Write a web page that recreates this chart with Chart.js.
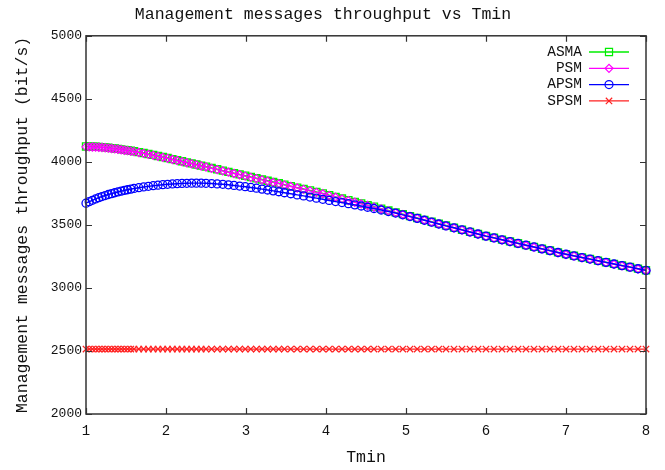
<!DOCTYPE html>
<html>
<head>
<meta charset="utf-8">
<script src="https://cdn.jsdelivr.net/npm/chart.js@4"></script>
<style>
  html, body { margin: 0; padding: 0; background: #fff; }
  canvas { display: block; }
</style>
</head>
<body>
<canvas id="chartTmin" width="665" height="470"></canvas>
<script>
// dati
const tmin = [
  1.00, 1.04, 1.08, 1.12, 1.16, 1.20, 1.24, 1.28, 1.32, 1.36, 1.40, 1.44, 1.48, 1.52, 1.56, 1.60,
  1.66, 1.72, 1.78, 1.84, 1.90, 1.96, 2.02, 2.08, 2.14, 2.20, 2.26, 2.32, 2.38, 2.44, 2.50,
  2.57, 2.64, 2.71, 2.78, 2.85, 2.92, 2.99, 3.06, 3.13, 3.20, 3.27, 3.34, 3.41, 3.48,
  3.56, 3.64, 3.72, 3.80, 3.88, 3.96, 4.04, 4.12, 4.20, 4.28, 4.36, 4.44, 4.52, 4.60,
  4.69, 4.78, 4.87, 4.96, 5.05, 5.14, 5.23, 5.32, 5.41, 5.50,
  5.6, 5.7, 5.8, 5.9, 6.0, 6.1, 6.2, 6.3, 6.4, 6.5, 6.6, 6.7, 6.8, 6.9, 7.0, 7.1, 7.2, 7.3, 7.4, 7.5, 7.6, 7.7, 7.8, 7.9, 8.0
];
const asma = [
  4122, 4122, 4121, 4120, 4119, 4117, 4115, 4112, 4109, 4106, 4103, 4099, 4095, 4092, 4088, 4084,
  4077, 4070, 4062, 4055, 4047, 4039, 4031, 4022, 4014, 4005, 3996, 3988, 3979, 3970, 3962,
  3951, 3941, 3931, 3921, 3911, 3901, 3890, 3880, 3870, 3860, 3850, 3840, 3830, 3819,
  3808, 3796, 3785, 3773, 3761, 3750, 3735, 3722, 3709, 3696, 3683, 3670, 3657, 3644,
  3629, 3614, 3599, 3585, 3570, 3555, 3540, 3525, 3510, 3495,
  3478, 3462, 3445, 3429, 3412, 3398, 3383, 3369, 3354, 3340, 3326, 3311, 3297, 3282, 3268, 3255, 3242, 3230, 3217, 3204, 3191, 3178, 3166, 3153, 3140
];
const psm = [
  4119, 4119, 4118, 4117, 4116, 4114, 4112, 4109, 4106, 4103, 4100, 4096, 4092, 4089, 4085, 4081,
  4074, 4067, 4059, 4052, 4044, 4036, 4028, 4019, 4011, 4002, 3993, 3985, 3976, 3967, 3959,
  3948, 3938, 3928, 3918, 3908, 3898, 3887, 3877, 3867, 3857, 3847, 3837, 3827, 3816,
  3805, 3793, 3782, 3770, 3758, 3747, 3732, 3719, 3706, 3693, 3680, 3667, 3654, 3641,
  3626, 3611, 3596, 3582, 3567, 3552, 3537, 3522, 3507, 3492,
  3475, 3459, 3442, 3426, 3409, 3395, 3380, 3366, 3351, 3337, 3323, 3308, 3294, 3279, 3265, 3252, 3239, 3227, 3214, 3201, 3188, 3175, 3163, 3150, 3137
];
const apsm = [
  3672, 3684, 3695, 3706, 3716, 3725, 3733, 3741, 3748, 3755, 3762, 3768, 3774, 3779, 3784, 3789,
  3795, 3801, 3806, 3811, 3815, 3819, 3822, 3825, 3827, 3829, 3830, 3831, 3831, 3831, 3830,
  3828, 3825, 3822, 3818, 3813, 3808, 3803, 3797, 3791, 3784, 3777, 3770, 3763, 3755,
  3747, 3738, 3730, 3721, 3712, 3703, 3694, 3685, 3677, 3668, 3659, 3650, 3640, 3630,
  3618, 3606, 3594, 3580, 3566, 3552, 3537, 3522, 3507, 3492,
  3477, 3461, 3444, 3428, 3411, 3397, 3382, 3368, 3353, 3339, 3325, 3310, 3296, 3281, 3267, 3254, 3241, 3229, 3216, 3203, 3190, 3177, 3165, 3152, 3139
];
const spsm = [
  2515, 2515, 2515, 2515, 2515, 2515, 2515, 2515, 2515, 2515, 2515, 2515, 2515, 2515, 2515, 2515,
  2515, 2515, 2515, 2515, 2515, 2515, 2515, 2515, 2515, 2515, 2515, 2515, 2515, 2515, 2515,
  2515, 2515, 2515, 2515, 2515, 2515, 2515, 2515, 2515, 2515, 2515, 2515, 2515, 2515,
  2515, 2515, 2515, 2515, 2515, 2515, 2515, 2515, 2515, 2515, 2515, 2515, 2515, 2515,
  2515, 2515, 2515, 2515, 2515, 2515, 2515, 2515, 2515, 2515,
  2515, 2515, 2515, 2515, 2515, 2515, 2515, 2515, 2515, 2515, 2515, 2515, 2515, 2515, 2515, 2515, 2515, 2515, 2515, 2515, 2515, 2515, 2515, 2515, 2515
];
const seriesNames = ['ASMA', 'PSM', 'APSM', 'SPSM'];
const xTicks = [1, 2, 3, 4, 5, 6, 7, 8];
const yTicks = [2000, 2500, 3000, 3500, 4000, 4500, 5000];

const MONO = 'Liberation Mono';

// coppie x,y per la scala lineare
function punti(valori) {
  return tmin.map((t, i) => ({ x: t, y: valori[i] }));
}

function serie(label, valori, colore, stile, raggio, ordine) {
  return {
    label: label,
    data: punti(valori),
    borderColor: colore,
    borderWidth: 1.4,
    pointStyle: stile,
    pointRadius: raggio,
    pointBorderWidth: 1.3,
    pointBorderColor: colore,
    pointBackgroundColor: 'rgba(0,0,0,0)',
    tension: 0,
    clip: false,
    order: ordine
  };
}

// riquadro, tacche interne e legenda stile gnuplot
const gnuplotFrame = {
  id: 'gnuplotFrame',
  afterDraw(chart) {
    const c = chart.ctx;
    const a = chart.chartArea;
    const sx = chart.scales.x, sy = chart.scales.y;
    c.save();
    c.strokeStyle = '#333';
    c.lineWidth = 1.5;
    c.strokeRect(a.left, a.top, a.right - a.left, a.bottom - a.top);
    c.lineWidth = 1.2;
    c.beginPath();
    xTicks.forEach(v => {
      const px = Math.round(sx.getPixelForValue(v)) + 0.5;
      c.moveTo(px, a.bottom); c.lineTo(px, a.bottom - 6);
      c.moveTo(px, a.top); c.lineTo(px, a.top + 6);
    });
    yTicks.forEach(v => {
      const py = Math.round(sy.getPixelForValue(v)) + 0.5;
      c.moveTo(a.left, py); c.lineTo(a.left + 6, py);
      c.moveTo(a.right, py); c.lineTo(a.right - 6, py);
    });
    c.stroke();

    // legenda
    c.font = '14.5px "' + MONO + '"';
    c.textAlign = 'right';
    c.textBaseline = 'middle';
    chart.data.datasets.forEach((ds, i) => {
      const y = 52 + i * 16.3;
      c.fillStyle = '#111';
      c.fillText(ds.label, 582, y);
      c.strokeStyle = ds.borderColor;
      c.lineWidth = 1.3;
      c.beginPath();
      c.moveTo(589, y); c.lineTo(629, y);
      c.stroke();
      c.lineWidth = 1.2;
      c.fillStyle = 'rgba(0,0,0,0)';
      Chart.helpers.drawPoint(c, { pointStyle: ds.pointStyle, radius: ds.pointRadius, rotation: 0, borderWidth: 1.2 }, 609, y);
    });
    c.restore();
  }
};

const ctx = document.getElementById('chartTmin').getContext('2d');

const dataTmin = {
  datasets: [
    serie(seriesNames[0], asma, '#00ee00', 'rect', 5, 4),
    serie(seriesNames[1], psm, '#ff00ff', 'rectRot', 4, 3),
    serie(seriesNames[2], apsm, '#0000ff', 'circle', 4, 2),
    serie(seriesNames[3], spsm, '#ff2020', 'crossRot', 4.5, 1)
  ]
};

const configTmin = {
  type: 'line',
  data: dataTmin,
  options: {
    responsive: false,
    animation: false,
    layout: { padding: { left: 0, right: 19, top: 0, bottom: 0 } },
    plugins: {
      legend: { display: false },
      tooltip: { enabled: false },
      title: {
        display: true,
        text: 'Management messages throughput vs Tmin',
        color: '#111',
        font: { family: MONO, size: 16.5, weight: 'normal' },
        padding: { top: 5, bottom: 11 }
      }
    },
    scales: {
      x: {
        type: 'linear',
        min: 1,
        max: 8,
        afterBuildTicks: (s) => { s.ticks = xTicks.map(v => ({ value: v })); },
        ticks: { color: '#111', font: { family: MONO, size: 14 }, padding: 9, maxRotation: 0, callback: (v) => String(v) },
        grid: { display: false, drawTicks: false },
        border: { display: false },
        title: {
          display: true, text: 'Tmin', color: '#111',
          font: { family: MONO, size: 16.5 },
          padding: { top: 0, bottom: 2 }
        },
        afterFit: (s) => { s.height = 56; }
      },
      y: {
        min: 2000,
        max: 5000,
        afterBuildTicks: (s) => { s.ticks = yTicks.map(v => ({ value: v })); },
        ticks: { color: '#111', font: { family: MONO, size: 13 }, padding: 4, callback: (v) => String(v) },
        grid: { display: false, drawTicks: false },
        border: { display: false },
        title: {
          display: true, text: 'Management messages throughput (bit/s)', color: '#111',
          font: { family: MONO, size: 16.5 },
          padding: { top: 13, bottom: 0 }
        },
        afterFit: (s) => { s.width = 86; }
      }
    }
  },
  plugins: [gnuplotFrame]
};

const chartTmin = new Chart(ctx, configTmin);
</script>
</body>
</html>
